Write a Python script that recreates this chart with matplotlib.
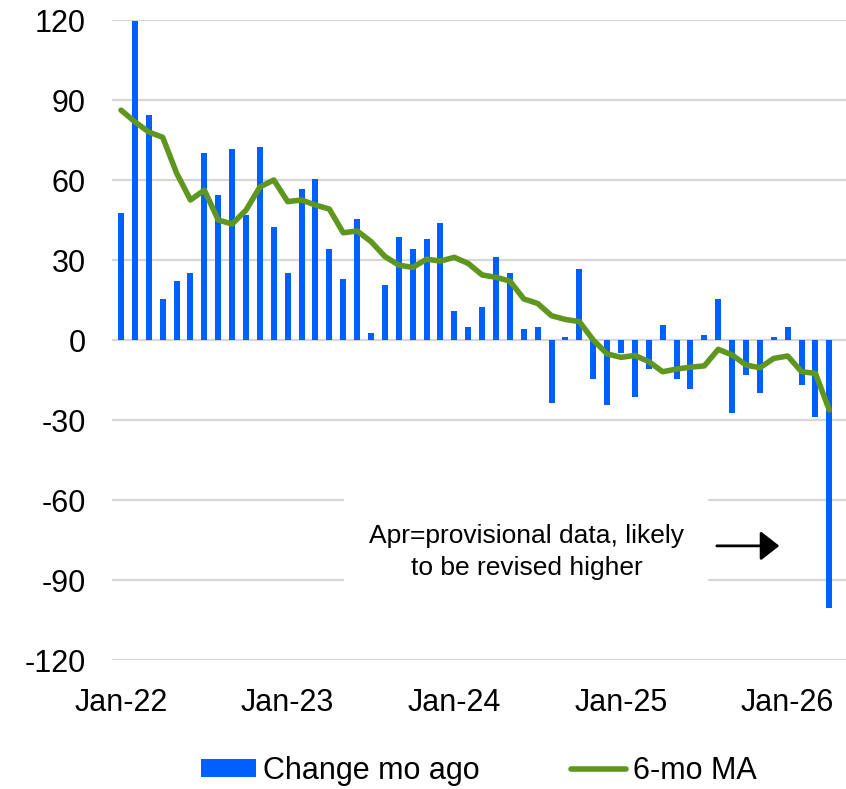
import matplotlib
matplotlib.use("Agg")
import matplotlib.pyplot as plt
from matplotlib.patches import Rectangle
import numpy as np

plt.rcParams['font.family'] = ['Liberation Sans', 'DejaVu Sans']

months = ["Jan-22", "Feb-22", "Mar-22", "Apr-22", "May-22", "Jun-22", "Jul-22", "Aug-22", "Sep-22", "Oct-22", "Nov-22", "Dec-22",
          "Jan-23", "Feb-23", "Mar-23", "Apr-23", "May-23", "Jun-23", "Jul-23", "Aug-23", "Sep-23", "Oct-23", "Nov-23", "Dec-23",
          "Jan-24", "Feb-24", "Mar-24", "Apr-24", "May-24", "Jun-24", "Jul-24", "Aug-24", "Sep-24", "Oct-24", "Nov-24", "Dec-24",
          "Jan-25", "Feb-25", "Mar-25", "Apr-25", "May-25", "Jun-25", "Jul-25", "Aug-25", "Sep-25", "Oct-25", "Nov-25", "Dec-25",
          "Jan-26", "Feb-26", "Mar-26", "Apr-26"]

change_mo_ago = [47.6, 119.6, 84.4, 15.4, 22.1, 25.1, 70.1, 54.4, 71.6, 46.9, 72.4, 42.4,
                 25.1, 56.6, 60.4, 34.1, 22.9, 45.4, 2.6, 20.6, 38.6, 34.1, 37.9, 43.9,
                 11.0, 4.9, 12.4, 31.1, 25.1, 4.1, 4.9, -23.5, 1.1, 26.6, -14.5, -24.3,
                 -4.8, -21.3, -10.8, 5.6, -14.5, -18.3, 1.9, 15.4, -27.3, -13.0, -19.8, 1.1,
                 4.9, -16.7, -28.7, -100.6]

ma_6mo = [86.2, 81.8, 78.0, 76.0, 62.6, 52.5, 56.2, 45.0, 43.5, 48.7, 57.4, 60.0,
          51.9, 52.5, 50.6, 49.1, 40.2, 40.9, 36.9, 31.3, 28.1, 27.2, 30.3, 29.6,
          31.0, 28.7, 24.4, 23.5, 22.1, 15.4, 13.7, 9.1, 7.7, 6.9, 0.0, -5.2,
          -6.5, -5.8, -8.1, -11.9, -10.9, -10.2, -9.7, -3.5, -5.6, -9.4, -10.4, -6.9,
          -6.0, -11.9, -12.5, -26.3]

tick_labels = ["Jan-22", "Jan-23", "Jan-24", "Jan-25", "Jan-26"]
y_ticks = [-120, -90, -60, -30, 0, 30, 60, 90, 120]

blue = '#0060FF'
green = '#5E961E'

fig = plt.figure(figsize=(8.46, 7.89), dpi=100)
ax = fig.add_axes([112/846, 1 - 660/789, (846 - 112)/846, (660 - 20)/789])

x = np.arange(len(months))
bars = ax.bar(x, change_mo_ago, width=0.43, color=blue, label='Change mo ago', zorder=2)
line, = ax.plot(x, ma_6mo, color=green, linewidth=4.0, solid_joinstyle='round', solid_capstyle='round',
                label='6-mo MA', zorder=3)

ax.set_ylim(-120, 120)
ax.set_xlim(-0.65, 52.2)
ax.set_yticks(y_ticks)
ax.set_yticklabels([str(v) for v in y_ticks])
ax.set_xticks([months.index(t) for t in tick_labels])
ax.set_xticklabels(tick_labels)
ax.tick_params(axis='both', length=0, labelsize=22, colors='black')
ax.tick_params(axis='y', pad=19)
ax.tick_params(axis='x', pad=20)
ax.grid(axis='y', color='#D6D6D6', linewidth=1.6, zorder=0)
ax.set_axisbelow(True)
for s in ax.spines.values():
    s.set_visible(False)

# white text box (annotation background), placed in axes-fraction coordinates
ax.add_patch(Rectangle(((344 - 112) / 734, (660 - 586) / 640), (708 - 344) / 734, (586 - 494) / 640,
                       transform=ax.transAxes, facecolor='white', edgecolor='none', zorder=3.5))
ax.text(29.2, -79.5, "Apr=provisional data, likely\nto be revised higher", fontsize=19,
        ha='center', va='center', multialignment='center', linespacing=1.38, zorder=4)
ax.annotate("", xy=(47.4, -77.2), xytext=(42.9, -77.2),
            arrowprops=dict(arrowstyle='-|>,head_length=1.15,head_width=0.9', color='black',
                            lw=2, shrinkA=0, shrinkB=0), zorder=4)

fig.legend([bars, line], ['Change mo ago', '6-mo MA'], loc='center',
           bbox_to_anchor=(479/846, 1 - 771/789), ncol=2, frameon=False,
           fontsize=22, handlelength=1.8, handleheight=0.52, handletextpad=0.22,
           columnspacing=3.0, borderaxespad=0)

fig.savefig('out.png', dpi=100)
